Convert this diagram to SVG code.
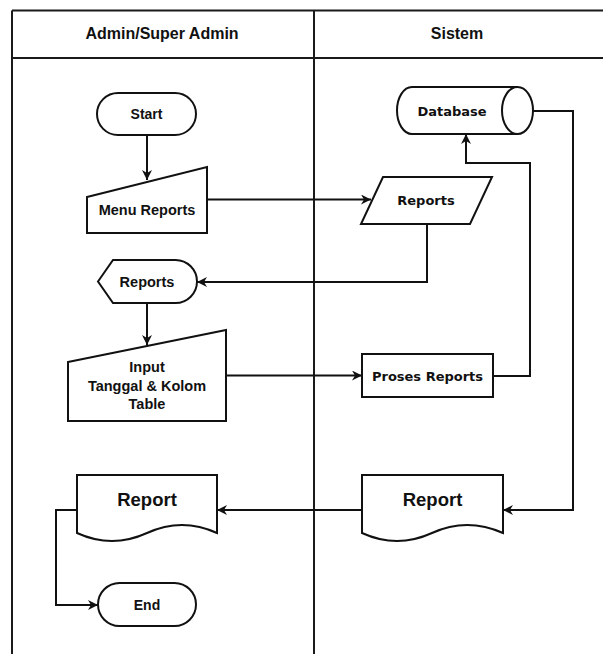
<svg xmlns="http://www.w3.org/2000/svg" width="603" height="654" viewBox="0 0 603 654">
<defs>
<marker id="arr" viewBox="0 0 10 10" refX="10" refY="5" markerWidth="10" markerHeight="10" markerUnits="userSpaceOnUse" orient="auto">
<path d="M0,0 L10,5 L0,10 L3,5 Z" fill="#111"/>
</marker>
<style>
.lane{stroke:#1a1a1a;stroke-width:2;fill:none}
.shape{fill:#fff;stroke:#111;stroke-width:2}
.edge{fill:none;stroke:#111;stroke-width:2;marker-end:url(#arr)}
.plain{fill:none;stroke:#111;stroke-width:2}
.t{font-family:"Liberation Sans",Arial,sans-serif;font-weight:bold;font-size:14.5px;fill:#111;text-anchor:middle}
.d{font-family:"DejaVu Sans",Verdana,sans-serif;font-weight:bold;font-size:13px;fill:#111;text-anchor:middle}
.h{font-family:"Liberation Sans",Arial,sans-serif;font-weight:bold;font-size:16px;fill:#111;text-anchor:middle}
.big{font-family:"Liberation Sans",Arial,sans-serif;font-weight:bold;font-size:18.5px;fill:#111;text-anchor:middle}
</style>
</defs>
<rect width="603" height="654" fill="#fff"/>
<g id="lanes">
<path class="lane" d="M12,10.5 H603 M12,58 H603 M12,10.5 V654 M314,10.5 V654"/>
<text class="h" x="162" y="39">Admin/Super Admin</text>
<text class="h" x="457" y="39">Sistem</text>
</g>
<g id="connectors">
<path class="edge" d="M147,135 V180"/>
<path class="edge" d="M207,199.5 H371"/>
<path class="edge" d="M427,224 V282 H197"/>
<path class="edge" d="M147,303 V345"/>
<path class="edge" d="M226,375.5 H362"/>
<path class="edge" d="M493,376 H530 V163 H466 V134"/>
<path class="edge" d="M533,111 H573 V510 H503"/>
<path class="edge" d="M362,510 H217"/>
<path class="edge" d="M77,510 H56 V605 H98"/>
</g>
<g id="start">
<rect class="shape" x="97" y="93" width="99" height="42" rx="21"/>
<text class="t" x="146.5" y="119" style="font-size:14px">Start</text>
</g>
<g id="menu-reports">
<polygon class="shape" points="87,197 207,167 207,233 87,233"/>
<text class="t" x="147" y="215">Menu Reports</text>
</g>
<g id="reports-io">
<polygon class="shape" points="383,177 492,177 470,224 361,224"/>
<text class="d" x="426" y="205">Reports</text>
</g>
<g id="reports-display">
<path class="shape" d="M98,281.5 L113,260 H175.5 A21.5,21.5 0 0 1 175.5,303 H113 Z"/>
<text class="t" x="147" y="287">Reports</text>
</g>
<g id="input">
<polygon class="shape" points="68,362 226,330 226,421 68,421"/>
<text class="t" x="147" y="372">Input</text>
<text class="t" x="147" y="391">Tanggal &amp; Kolom</text>
<text class="t" x="147" y="409">Table</text>
</g>
<g id="proses-reports">
<rect class="shape" x="362" y="354" width="131" height="43"/>
<text class="d" x="427.5" y="380.5">Proses Reports</text>
</g>
<g id="database">
<path class="shape" d="M412,87 H517.5 A15.5,23.5 0 0 1 517.5,134 H412 A15,23.5 0 0 1 412,87 Z"/>
<path class="plain" d="M517.5,87 A15.5,23.5 0 0 0 517.5,134"/>
<text class="d" x="452" y="115.5">Database</text>
</g>
<g id="report-sistem">
<path class="shape" d="M362,475 H503 V533 Q467,517 432,533 Q397,549 362,533 Z"/>
<text class="big" x="432.5" y="506">Report</text>
</g>
<g id="report-admin">
<path class="shape" d="M77,475 H217 V533 Q182,517 147,533 Q112,549 77,533 Z"/>
<text class="big" x="147" y="506">Report</text>
</g>
<g id="end">
<rect class="shape" x="98" y="583" width="98" height="43" rx="21.5"/>
<text class="t" x="147" y="610" style="font-size:14px">End</text>
</g>
</svg>
